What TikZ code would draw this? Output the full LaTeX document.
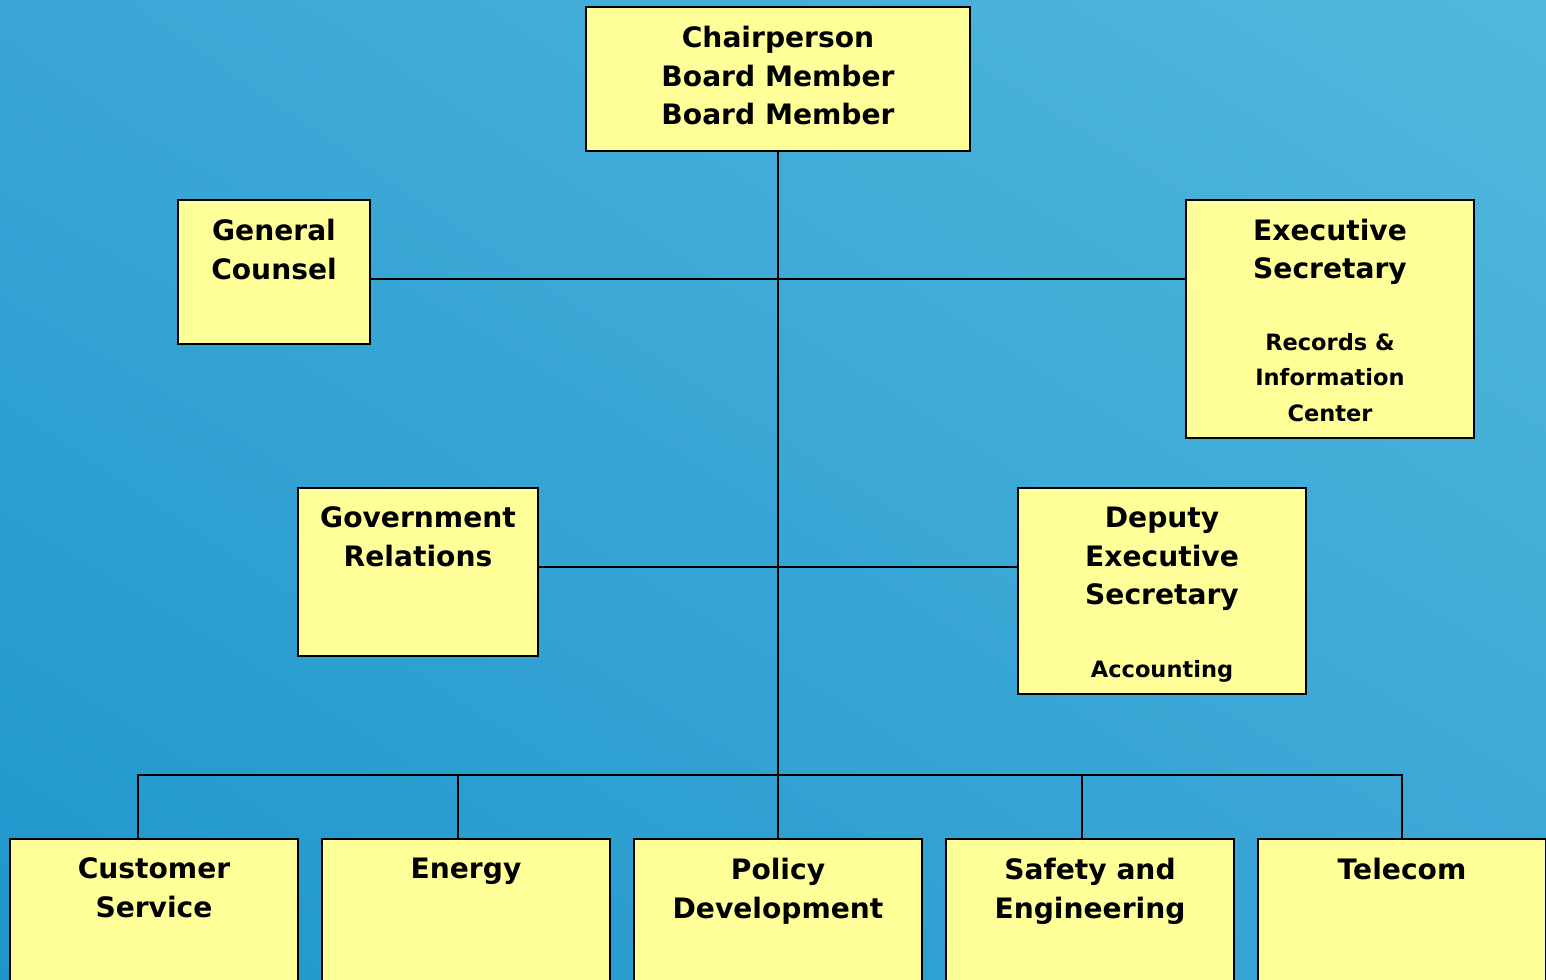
\documentclass[tikz,border=0pt]{standalone}
\usepackage{fontspec}
\setmainfont{DejaVu Sans}
\usetikzlibrary{positioning, shadings}
\definecolor{memo}{RGB}{255,255,153}
\definecolor{skydeep}{RGB}{30,150,204}
\definecolor{skymid}{RGB}{58,166,214}
\definecolor{skypale}{RGB}{82,184,220}
\tikzset{
x=0.01cm, y=-0.01cm, % one unit per pixel, y runs downwards
line width=0.7pt, % same weight for boxes and lines
office/.style={draw=black, fill=memo, inner sep=0pt}, % the yellow boxes
title/.style={align=center, anchor=north, inner sep=0pt, font=\bfseries\fontsize{8}{11}\selectfont}, % box headings
subtitle/.style={title, font=\bfseries\fontsize{6.4}{10.1}\selectfont}, % smaller lines under a heading
}

\begin{document}
\begin{tikzpicture}
      \clip (0,0) rectangle (1546,980);
      \shade[upper left=skymid, upper right=skypale, lower left=skydeep, lower right=skymid] (0,0) rectangle (1546,980);

      % boxes
      \node[office, minimum width=3.84cm, minimum height=1.44cm] (chair) at (778,79) {};
      \node[office, minimum width=1.92cm, minimum height=1.44cm] (counsel) at (274,272) {};
      \node[office, minimum width=2.88cm, minimum height=2.38cm] (execsec) at (1330,319) {};
      \node[office, minimum width=2.40cm, minimum height=1.68cm] (govrel) at (418,572) {};
      \node[office, minimum width=2.88cm, minimum height=2.06cm] (deputy) at (1162,591) {};
      \node[office, minimum width=2.88cm, minimum height=1.60cm] (custserv) at (154,919) {};
      \node[office, minimum width=2.88cm, minimum height=1.60cm] (energy) at (466,919) {};
      \node[office, minimum width=2.88cm, minimum height=1.60cm] (policy) at (778,919) {};
      \node[office, minimum width=2.88cm, minimum height=1.60cm] (safety) at (1090,919) {};
      \node[office, minimum width=2.88cm, minimum height=1.60cm] (telecom) at (1402,919) {};

      % headings
      \node[title] (chairtext) at ([yshift=-0.19cm]chair.north) {Chairperson\\Board Member\\Board Member};
      \node[title] (counseltext) at ([yshift=-0.19cm]counsel.north) {General\\Counsel};
      \node[title] (execsectext) at ([yshift=-0.19cm]execsec.north) {Executive\\Secretary};
      \node[subtitle] (recordstext) at ([yshift=-1.33cm]execsec.north) {Records \&\\Information\\Center};
      \node[title] (govreltext) at ([yshift=-0.19cm]govrel.north) {Government\\Relations};
      \node[title] (deputytext) at ([yshift=-0.19cm]deputy.north) {Deputy\\Executive\\Secretary};
      \node[subtitle] (accounttext) at ([yshift=-1.72cm]deputy.north) {Accounting};
      \node[title] (custservtext) at ([yshift=-0.19cm]custserv.north) {Customer\\Service};
      \node[title] (energytext) at ([yshift=-0.19cm]energy.north) {Energy};
      \node[title] (policytext) at ([yshift=-0.19cm]policy.north) {Policy\\Development};
      \node[title] (safetytext) at ([yshift=-0.19cm]safety.north) {Safety and\\Engineering};
      \node[title] (telecomtext) at ([yshift=-0.19cm]telecom.north) {Telecom};

      % joints on the trunk
      \coordinate (tier1) at (778,279);
      \coordinate (tier2) at (778,567);
      \coordinate (bus) at (778,775);

      \draw (chair.south) -- (policy.north);
      \draw (counsel.east |- tier1) -- (execsec.west |- tier1);
      \draw (govrel.east |- tier2) -- (deputy.west |- tier2);
      \draw ([xshift=-0.16cm]custserv.north) |- (bus) -| (telecom.north);
      \draw ([xshift=-0.08cm]energy.north) -- ([xshift=-0.08cm]energy.north |- bus);
      \draw ([xshift=-0.08cm]safety.north) -- ([xshift=-0.08cm]safety.north |- bus);
    \end{tikzpicture}
\end{document}
